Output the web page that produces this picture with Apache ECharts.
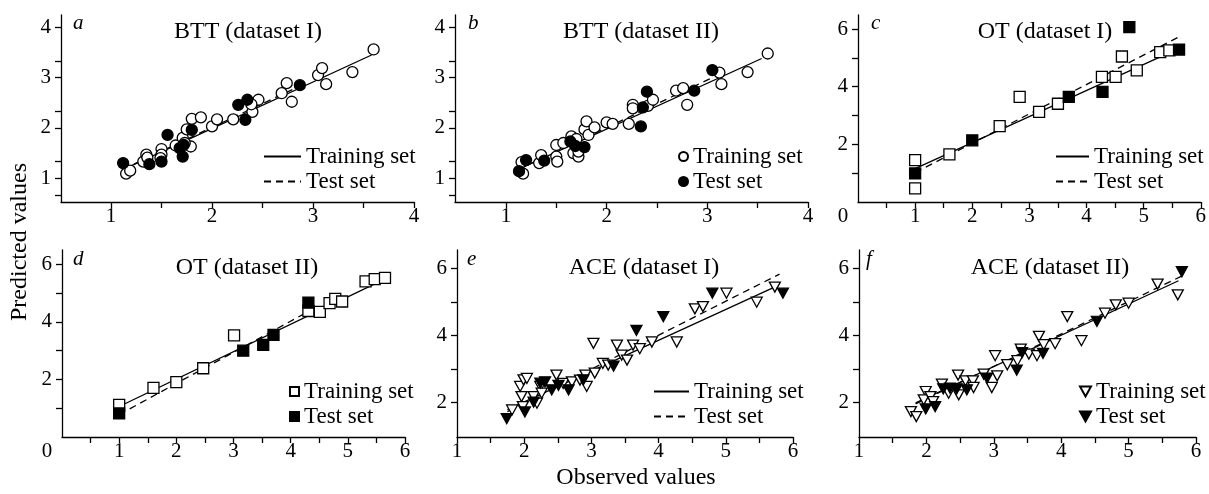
<!DOCTYPE html>
<html><head><meta charset="utf-8">
<script src="https://cdn.jsdelivr.net/npm/echarts@6/dist/echarts.min.js"></script>
<style>html,body{margin:0;padding:0;background:#fff}#c{width:1209px;height:494px}</style>
</head><body><div id="c"></div><script>
// ---------- data (observed, predicted) ----------
const aTrain = [[1.15,1.09],[1.19,1.15],[1.32,1.33],[1.35,1.47],[1.36,1.41],[1.50,1.58],[1.50,1.47],[1.49,1.40],[1.64,1.65],[1.71,1.80],[1.75,1.97],[1.79,1.63],[1.73,1.70],[1.80,2.18],[1.89,2.21],[2.00,2.03],[2.05,2.17],[2.21,2.17],[2.40,2.32],[2.46,2.56],[2.39,2.47],[2.69,2.69],[2.74,2.89],[2.79,2.52],[3.05,3.05],[3.09,3.19],[3.13,2.87],[3.39,3.11],[3.60,3.56]];
const aTest = [[1.12,1.30],[1.38,1.28],[1.50,1.33],[1.56,1.86],[1.68,1.60],[1.71,1.43],[1.72,1.66],[1.80,1.96],[2.26,2.46],[2.35,2.56],[2.33,2.16],[2.87,2.85]];
const aTrainLine = [[1.15,1.20],[3.58,3.45]];
const aTestLine = [[1.12,1.18],[2.90,2.86]];

const bTrain = [[1.155,1.32],[1.17,1.09],[1.33,1.30],[1.35,1.46],[1.50,1.66],[1.50,1.43],[1.51,1.33],[1.57,1.70],[1.65,1.83],[1.67,1.50],[1.72,1.43],[1.72,1.53],[1.70,1.78],[1.78,1.97],[1.80,2.13],[1.82,1.86],[1.88,2.01],[2.00,2.11],[2.06,2.08],[2.22,2.08],[2.26,2.46],[2.26,2.39],[2.41,2.44],[2.46,2.56],[2.69,2.74],[2.76,2.79],[2.80,2.46],[3.12,3.10],[3.14,2.87],[3.40,3.11],[3.60,3.48]];
const bTest = [[1.13,1.14],[1.20,1.36],[1.38,1.35],[1.64,1.73],[1.69,1.64],[1.78,1.62],[2.36,2.41],[2.40,2.72],[2.34,2.03],[2.87,2.74],[3.05,3.15]];
const bTrainLine = [[1.17,1.22],[3.54,3.38]];
const bTestLine = [[1.13,1.18],[3.05,3.00]];

const cTrain = [[1.0,1.45],[1.0,0.47],[1.60,1.65],[2.48,2.63],[2.83,3.65],[3.17,3.13],[3.50,3.41],[4.27,4.34],[4.51,4.34],[4.62,5.05],[4.88,4.57],[5.29,5.20],[5.45,5.26]];
const cTest = [[1.0,0.99],[2.0,2.14],[3.69,3.65],[4.28,3.82],[4.75,6.07],[5.62,5.29]];
const cTrainLine = [[1.0,1.16],[5.56,5.28]];
const cTestLine = [[1.0,1.02],[5.61,5.72]];

const dTrain = [[1.0,1.12],[1.60,1.71],[2.0,1.91],[2.47,2.39],[3.01,3.53],[4.31,4.38],[4.51,4.35],[4.68,4.65],[4.78,4.80],[4.90,4.71],[5.31,5.41],[5.47,5.49],[5.65,5.53]];
const dTest = [[1.0,0.82],[3.17,3.00],[3.52,3.20],[3.70,3.55],[4.31,4.67]];
const dTrainLine = [[1.0,1.06],[5.71,5.55]];
const dTestLine = [[1.0,0.78],[4.30,4.35]];

const eTrain = [[1.82,1.77],[1.96,2.17],[1.94,2.47],[1.99,2.67],[2.04,2.71],[1.98,1.87],[2.14,2.17],[2.19,1.97],[2.24,2.47],[2.26,2.27],[2.48,2.81],[2.58,2.56],[2.71,2.61],[2.83,2.66],[2.91,2.81],[2.93,2.47],[3.05,2.87],[3.03,3.76],[3.17,3.16],[3.25,3.11],[3.38,3.71],[3.45,3.41],[3.53,3.26],[3.62,3.71],[3.72,3.60],[3.90,3.80],[4.27,3.80],[4.54,4.79],[4.66,4.86],[5.01,5.26],[5.46,4.99],[5.73,5.44]];
const eTest = [[1.74,1.51],[2.01,1.71],[2.14,2.00],[2.24,2.57],[2.31,2.61],[2.41,2.37],[2.51,2.50],[2.66,2.37],[2.88,2.67],[3.33,3.08],[3.67,4.15],[4.07,4.56],[4.80,5.26],[5.85,5.26]];
const eTrainLine = [[1.75,1.78],[5.70,5.42]];
const eTestLine = [[1.75,1.72],[5.80,5.83]];

const fTrain = [[1.77,1.72],[1.85,1.57],[1.99,2.32],[1.96,2.07],[2.06,2.17],[2.10,2.02],[2.23,2.54],[2.33,2.27],[2.47,2.81],[2.48,2.22],[2.58,2.64],[2.69,2.64],[2.70,2.44],[2.85,2.84],[2.97,2.44],[3.05,2.79],[3.02,3.39],[3.20,3.12],[3.35,3.24],[3.40,3.59],[3.52,3.44],[3.64,3.39],[3.67,3.97],[3.74,3.72],[3.91,3.75],[4.09,4.56],[4.30,3.84],[4.65,4.66],[4.81,4.91],[5.00,4.96],[5.43,5.53],[5.73,5.21]];
const fTest = [[1.99,1.80],[2.13,1.87],[2.25,2.40],[2.35,2.42],[2.45,2.40],[2.60,2.37],[2.90,2.72],[3.34,2.96],[3.42,3.48],[3.73,3.46],[4.53,4.42],[5.79,5.90]];
const fTrainLine = [[1.84,1.98],[5.74,5.63]];
const fTestLine = [[1.84,1.95],[5.84,5.82]];

// ---------- ticks ----------
const abXTicks = [1,1.5,2,2.5,3,3.5,4];
const abXLabels = [1,2,3,4];
const abYTicks = [0.67,1,1.33,2,2.33,3,3.33,4];
const abYLabels = [1,2,3,4];
const cdXTicks = [0.5,1,1.5,2,2.5,3,3.5,4,4.5,5,5.5,6];
const cdXLabels = [0,1,2,3,4,5,6];
const efXTicks = [1,1.5,2,2.5,3,3.5,4,4.5,5,5.5,6];
const efXLabels = [1,2,3,4,5,6];
const bigYTicks = [1,2,3,4,5,6];
const efYTicks = [2,3,4,5,6];
const bigYLabels = [2,4,6];

const titles = ['BTT (dataset I)','BTT (dataset II)','OT (dataset I)','OT (dataset II)','ACE (dataset I)','ACE (dataset II)'];
const letters = ['a','b','c','d','e','f'];
const trainName = 'Training set';
const testName = 'Test set';
const xName = 'Observed values';
const yName = 'Predicted values';

// ---------- layout ----------
const FONT = 'Liberation Serif';
const DOWN_TRI = 'path://M0,0L11,0L5.5,10Z';
const panels = [
  {grid:{left:61,top:15,width:353,height:187}, xr:[0.505,4], yr:[0.527,4.245], xt:abXTicks, xl:abXLabels, yt:abYTicks, yl:abYLabels,
   train:aTrain, test:aTest, tl:aTrainLine, sl:aTestLine, sym:'circle', leg:'line', legLeft:263, legW:37, legTop:145, tx:248, ty:20, lx:73, ly:13},
  {grid:{left:455,top:15,width:353,height:187}, xr:[0.494,4], yr:[0.527,4.245], xt:abXTicks, xl:abXLabels, yt:abYTicks, yl:abYLabels,
   train:bTrain, test:bTest, tl:bTrainLine, sl:bTestLine, sym:'circle', leg:'marker', legLeft:678, legW:9, legH:9, legTop:145, tx:641, ty:20, lx:468, ly:13},
  {grid:{left:858,top:15,width:344,height:187}, xr:[0,6], yr:[0,6.49], xt:cdXTicks, xl:cdXLabels, yt:bigYTicks, yl:bigYLabels,
   train:cTrain, test:cTest, tl:cTrainLine, sl:cTestLine, sym:'rect', leg:'line', legLeft:1055, legW:33, legTop:145, tx:1045, ty:20, lx:871, ly:13},
  {grid:{left:62,top:250,width:343,height:187}, xr:[0,6], yr:[0,6.5], xt:cdXTicks, xl:cdXLabels, yt:bigYTicks, yl:bigYLabels,
   train:dTrain, test:dTest, tl:dTrainLine, sl:dTestLine, sym:'rect', leg:'marker', legLeft:289, legW:9, legH:9, legTop:380, tx:247, ty:256, lx:73, ly:249},
  {grid:{left:457,top:250,width:336,height:187}, xr:[1,6], yr:[0.96,6.55], xt:efXTicks, xl:efXLabels, yt:efYTicks, yl:bigYLabels,
   train:eTrain, test:eTest, tl:eTrainLine, sl:eTestLine, sym:DOWN_TRI, leg:'line', legLeft:653, legW:35, legTop:380, tx:644, ty:256, lx:467, ly:249},
  {grid:{left:859,top:250,width:337,height:187}, xr:[1,6], yr:[0.96,6.55], xt:efXTicks, xl:efXLabels, yt:efYTicks, yl:bigYLabels,
   train:fTrain, test:fTest, tl:fTrainLine, sl:fTestLine, sym:DOWN_TRI, leg:'marker', legLeft:1079, legW:11, legH:10, legTop:380, tx:1050, ty:256, lx:866, ly:249}
];

const axisLineStyle = {color:'#000', width:1.3};
const grids = [], xAxes = [], yAxes = [], series = [], legends = [], titleList = [];

panels.forEach((p, i) => {
  const k = letters[i];
  grids.push(p.grid);
  const xLab = {
    show:true, customValues:p.xl, margin:4, color:'#000', fontFamily:FONT, fontSize:21,
    formatter: v => v === 0 ? '{z|0}' : String(v),
    rich:{z:{padding:[0,30,0,0], fontFamily:FONT, fontSize:21, color:'#000'}}
  };
  xAxes.push({type:'value', gridIndex:i, min:p.xr[0], max:p.xr[1],
    axisLine:{show:true, onZero:false, lineStyle:axisLineStyle},
    axisTick:{show:true, inside:false, length:6, customValues:p.xt, lineStyle:axisLineStyle},
    axisLabel:xLab, splitLine:{show:false}});
  yAxes.push({type:'value', gridIndex:i, min:p.yr[0], max:p.yr[1],
    axisLine:{show:true, onZero:false, lineStyle:axisLineStyle},
    axisTick:{show:true, inside:false, length:6, customValues:p.yt, lineStyle:axisLineStyle},
    axisLabel:{show:true, customValues:p.yl, margin:10, color:'#000', fontFamily:FONT, fontSize:21},
    splitLine:{show:false}});

  const isTri = p.sym === DOWN_TRI;
  const size = isTri ? [11,10] : 11;
  // regression lines (under markers)
  series.push({name:k+':'+trainName+' line', type:'line', xAxisIndex:i, yAxisIndex:i, data:p.tl, symbol:'none', color:'#000',
    itemStyle:{color:'#000'}, lineStyle:{color:'#000', width:1.3, type:'solid'}, z:1, silent:true, animation:false});
  series.push({name:k+':'+testName+' line', type:'line', xAxisIndex:i, yAxisIndex:i, data:p.sl, symbol:'none', color:'#000',
    itemStyle:{color:'#000'}, lineStyle:{color:'#000', width:1.3, type:[7,5]}, z:1, silent:true, animation:false});
  series.push({name:k+':'+trainName, type:'scatter', xAxisIndex:i, yAxisIndex:i, data:p.train, symbol:p.sym, symbolSize:size,
    itemStyle:{color:'#fff', borderColor:'#000', borderWidth:1.3, opacity:1}, z:2, silent:true, animation:false});
  series.push({name:k+':'+testName, type:'scatter', xAxisIndex:i, yAxisIndex:i, data:p.test, symbol:p.sym, symbolSize:size,
    itemStyle:{color:'#000', borderColor:'#000', borderWidth:1.3, opacity:1}, z:3, silent:true, animation:false});

  const isLine = p.leg === 'line';
  const legData = isLine
    ? [{name:k+':'+trainName+' line', itemStyle:{opacity:0}}, {name:k+':'+testName+' line', itemStyle:{opacity:0}}]
    : [{name:k+':'+trainName, icon:p.sym === 'rect' ? 'rect' : p.sym}, {name:k+':'+testName, icon:p.sym === 'rect' ? 'rect' : p.sym}];
  legends.push({show:true, orient:'vertical', left:p.legLeft, top:p.legTop, padding:0,
    itemWidth:p.legW, itemHeight:isLine ? 14 : p.legH, itemGap:2, selectedMode:false,
    data:legData, formatter: n => n.split(':')[1].replace(' line',''),
    textStyle:{color:'#000', fontFamily:FONT, fontSize:23, padding:[0,0,0,0]}});

  titleList.push({text:titles[i], left:p.tx, top:p.ty, textAlign:'center', padding:0,
    textStyle:{color:'#000', fontFamily:FONT, fontSize:24, fontWeight:'normal'}});
  titleList.push({text:k, left:p.lx, top:p.ly, padding:0,
    textStyle:{color:'#000', fontFamily:FONT, fontSize:21, fontWeight:'normal', fontStyle:'italic'}});
});

titleList.push({text:xName, left:636, top:466, textAlign:'center', padding:0,
  textStyle:{color:'#000', fontFamily:FONT, fontSize:24, fontWeight:'normal'}});

const chart = echarts.init(document.getElementById('c'), null, {renderer:'canvas'});
chart.setOption({
  animation:false,
  backgroundColor:'#fff',
  title:titleList,
  legend:legends,
  grid:grids,
  xAxis:xAxes,
  yAxis:yAxes,
  series:series,
  graphic:[{type:'text', x:20, y:242, rotation:Math.PI/2, silent:true,
    style:{text:yName, font:'24px "Liberation Serif"', fontFamily:FONT, fontSize:24, fill:'#000',
      textAlign:'center', textVerticalAlign:'middle', align:'center', verticalAlign:'middle'}}]
});
</script></body></html>
